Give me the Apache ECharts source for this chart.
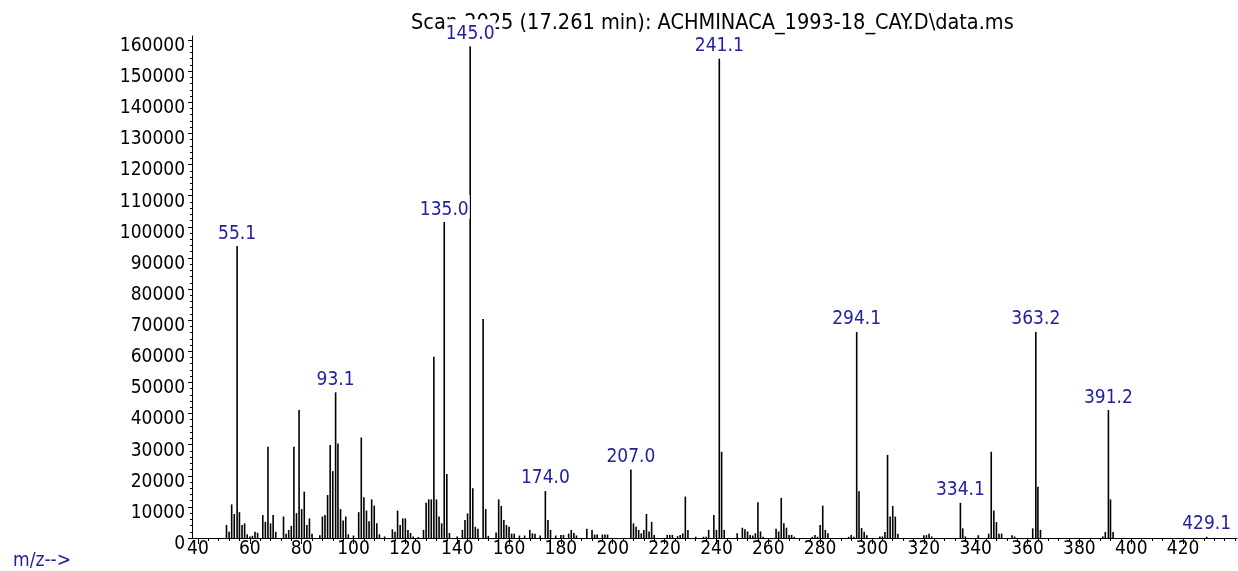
<!DOCTYPE html>
<html>
<head>
<meta charset="utf-8">
<script src="https://cdn.jsdelivr.net/npm/echarts@6/dist/echarts.min.js"></script>
<style>
html,body{margin:0;padding:0;background:#fff;}
#chart{width:1238px;height:571px;}
</style>
</head>
<body>
<div id="chart"></div>
<script>
// ---- data ----
const mz = [51,52,53,54,55.1,56,57,58,59,60,61,62,63,65,66,67,68,69,70,73,74,75,76,77,78,79,80,81,82,83,84,87,88,89,90,91,92,93.1,94,95,96,97,98,100,102,103,104,105,106,107,108,109,110,112,115,116,117,118,119,120,121,122,123,125,127,128,129,130,131,132,133,134,135.0,136,137,140,142,143,144,145.0,146,147,148,150,151,152,155,156,157,158,159,160,161,162,164,166,168,169,170,172,174.0,175,176,178,180,181,183,184,185,186,190,192,193,194,196,197,198,207.0,208,209,210,211,212,213,214,215,216,221,222,223,225,226,227,228,229,232,235,236,237,239,240,241.1,242,243,248,250,251,252,253,254,255,256,257,258,263,264,265,266,267,268,269,270,277,278,279,280,281,282,283,291,292,293,294.1,295,296,297,298,303,304,305,306,307,308,309,310,320,321,322,323,334.1,335,336,341,345,346,347,348,349,350,354,355,362,363.2,364,365,389,390,391.2,392,393,429.1];
const abundance = [4200,2000,10800,7700,93800,8300,4200,4700,1200,500,700,2000,1700,7400,5200,29300,4700,7400,2000,6900,1400,2600,3900,29300,8000,41100,9300,14900,4200,6300,1400,900,6900,7400,13800,29900,21500,46800,30400,9300,5600,6900,1200,800,8300,32300,13100,8800,5400,12400,10400,4700,1200,500,2800,2000,8800,4200,6300,6300,2600,1600,500,300,2600,11300,12400,12400,58200,12400,6900,4700,101500,20600,1600,500,2600,5800,7900,158000,16000,3600,3000,70400,9300,700,1800,12400,10300,5800,4200,3600,1400,1400,800,800,2600,1500,1400,800,15100,5800,2600,800,1000,1000,1400,2600,1600,800,3000,2600,1100,1100,1100,1100,1100,22000,4700,3600,2600,1500,2600,7700,2100,5200,1000,1000,1000,1000,600,1000,1500,13300,2600,400,400,400,2600,7400,2600,154000,27700,2600,1500,3300,2800,2100,1000,800,1500,11500,2100,400,3000,2100,12900,4700,3300,1000,1000,400,400,1000,400,4200,10400,2600,1500,400,1000,400,66200,15000,3200,2000,900,500,500,1900,26700,6900,10300,6900,1400,900,900,1400,500,11300,3100,500,900,1400,27700,8800,5100,1400,1400,900,500,3100,66200,16500,2600,500,1900,41100,12400,1900,400];
const labeledPeaks = [55.1,93.1,135.0,145.0,174.0,207.0,241.1,294.1,334.1,363.2,391.2,429.1];
const xTickLabels = [40,60,80,100,120,140,160,180,200,220,240,260,280,300,320,340,360,380,400,420];
const yTickLabels = [0,10000,20000,30000,40000,50000,60000,70000,80000,90000,100000,110000,120000,130000,140000,150000,160000];
const titleText = 'Scan 2025 (17.261 min): ACHMINACA_1993-18_CAY.D\\data.ms';
const yName = 'Abundance';
const xName = 'm/z-->';

// ---- styling ----
const FONT = '"DejaVu Sans Condensed", "Liberation Sans Narrow", "Liberation Sans", sans-serif';
const FS = 19;       // digits
const FS_T = 21.5;   // title / axis name
const BLUE = '#22229c';
const X_MIN = 37.7, X_MAX = 440.8, Y_MAX = 161300;

const xMinor = [];
for (let v = 40; v <= 440; v += 4) xMinor.push(v);
const yMinor = [];
for (let v = 0; v <= 160000; v += 2000) yMinor.push(v);

const seriesData = mz.map((m, i) => {
  const item = { value: [m, abundance[i]] };
  if (labeledPeaks.indexOf(m) >= 0) item.label = { show: true };
  return item;
});

const chart = echarts.init(document.getElementById('chart'), null, { renderer: 'canvas' });
chart.setOption({
  animation: false,
  backgroundColor: '#fff',
  textStyle: { fontFamily: FONT },
  grid: { left: 192, right: 1, top: 36, bottom: 33, containLabel: false },
  graphic: [
    { type: 'text', left: 13, top: -17, z: 0, style: { text: yName, fill: BLUE, font: FS_T + 'px ' + FONT } },
    { type: 'text', left: 411, top: 12, z: 0, style: { text: titleText, fill: '#000', font: FS_T + 'px ' + FONT } },
    { type: 'text', left: 13, top: 552, z: 0, style: { text: xName, fill: BLUE, font: FS + 'px ' + FONT } }
  ],
  xAxis: [
    {
      type: 'value', min: X_MIN, max: X_MAX, position: 'bottom',
      axisLine: { show: true, lineStyle: { color: '#000', width: 1 } },
      axisTick: { show: true, customValues: xMinor, length: 3, lineStyle: { color: '#000' } },
      axisLabel: { show: false },
      splitLine: { show: false }
    },
    {
      type: 'value', min: X_MIN, max: X_MAX, position: 'bottom',
      axisLine: { show: false },
      axisTick: { show: true, customValues: xTickLabels, length: 6, lineStyle: { color: '#000' } },
      axisLabel: { show: true, customValues: xTickLabels, color: '#000', fontSize: FS, fontFamily: FONT, margin: 2, formatter: v => String(v) },
      splitLine: { show: false }
    }
  ],
  yAxis: [
    {
      type: 'value', min: 0, max: Y_MAX, position: 'left',
      axisLine: { show: true, lineStyle: { color: '#000', width: 1 } },
      axisTick: { show: true, customValues: yMinor, length: 2, lineStyle: { color: '#000' } },
      axisLabel: { show: false },
      splitLine: { show: false }
    },
    {
      type: 'value', min: 0, max: Y_MAX, position: 'left',
      axisLine: { show: false },
      axisTick: { show: true, customValues: yTickLabels, length: 4, lineStyle: { color: '#000' } },
      axisLabel: { show: true, customValues: yTickLabels, color: '#000', fontSize: FS, fontFamily: FONT, margin: 7, verticalAlign: 'top', lineHeight: 12, formatter: v => String(v) },
      splitLine: { show: false }
    }
  ],
  series: [{
    type: 'bar',
    xAxisIndex: 0, yAxisIndex: 0,
    barWidth: 1.6,
    itemStyle: { color: '#000' },
    label: {
      show: false, position: 'top', distance: 3,
      color: BLUE, fontSize: FS, fontFamily: FONT,
      backgroundColor: '#fff', padding: [5, 1, 0, 1],
      formatter: p => p.value[0].toFixed(1)
    },
    data: seriesData
  }]
});
</script>
</body>
</html>
